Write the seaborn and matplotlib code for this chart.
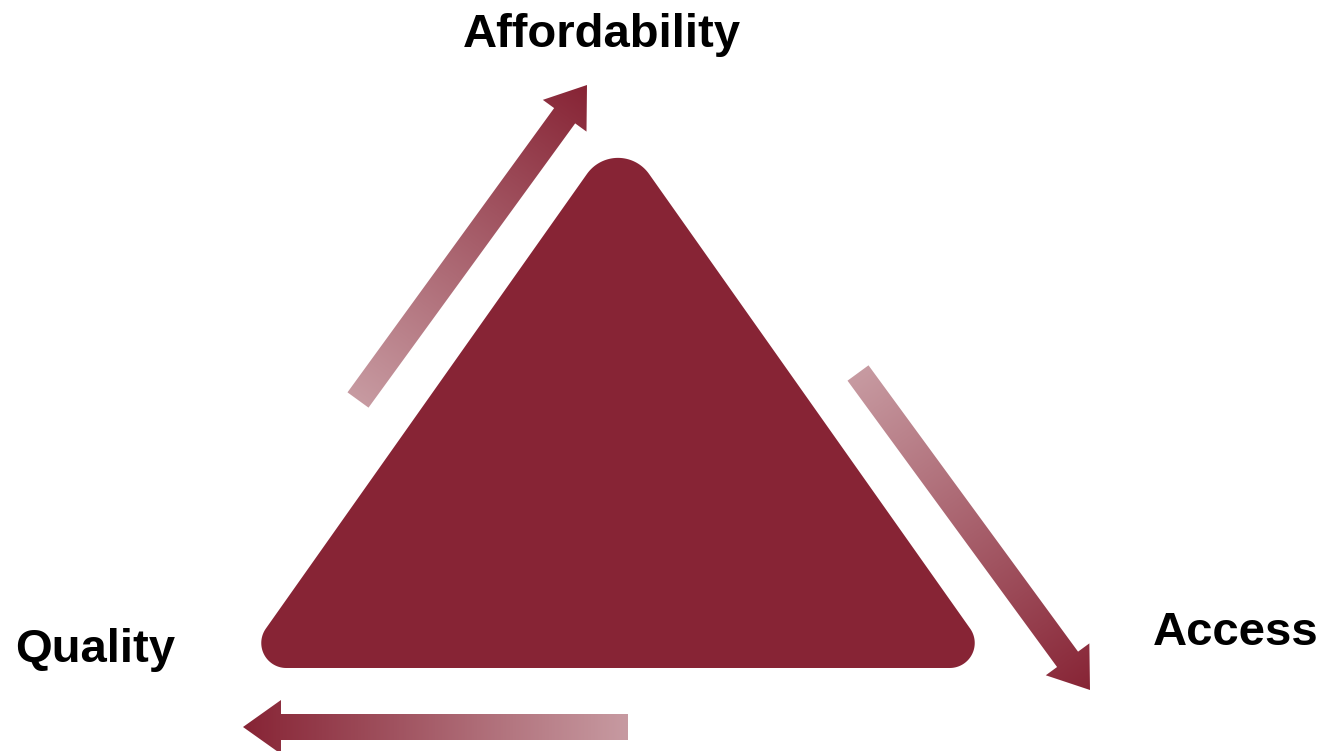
import numpy as np
import matplotlib
matplotlib.use("Agg")
import matplotlib.pyplot as plt
import seaborn as sns
from matplotlib.patches import Polygon
from matplotlib.colors import LinearSegmentedColormap

# ---- content ----
labels = ["Affordability", "Access", "Quality"]
label_x = [602, 1236, 95]
label_y = [47, 645, 662]          # baselines (pixels from top)

# triangle (sharp vertices, pixels) and corner radii
tri_x = [618, 238, 998]
tri_y = [130, 668, 668]
corner_r = [38, 25, 25]

# arrows: tail -> tip
arrow_tail_x = [358, 858, 628]
arrow_tail_y = [400, 373, 727]
arrow_tip_x = [587, 1090, 243]
arrow_tip_y = [85, 690, 727]

DARK = "#872435"
LIGHT = "#c79aa1"

sns.set_theme(style="white")
plt.rcParams["font.family"] = ["Liberation Sans", "DejaVu Sans"]

W, H, DPI = 1321, 751, 100
fig = plt.figure(figsize=(W / DPI, H / DPI), dpi=DPI)
fig.patch.set_facecolor("white")
ax = fig.add_axes([0, 0, 1, 1])
ax.set_xlim(0, W)
ax.set_ylim(H, 0)
ax.axis("off")

# ---- rounded triangle ----
V = np.column_stack([tri_x, tri_y]).astype(float)
pts = []
n = len(V)
for i in range(n):
    A, Vi, C = V[i - 1], V[i], V[(i + 1) % n]
    r = corner_r[i]
    u1 = (A - Vi) / np.linalg.norm(A - Vi)
    u2 = (C - Vi) / np.linalg.norm(C - Vi)
    ang = np.arccos(np.clip(u1 @ u2, -1, 1))
    half = ang / 2
    bis = (u1 + u2) / np.linalg.norm(u1 + u2)
    center = Vi + bis * r / np.sin(half)
    T1 = Vi + u1 * r / np.tan(half)
    T2 = Vi + u2 * r / np.tan(half)
    a1 = np.arctan2(*(T1 - center)[::-1])
    a2 = np.arctan2(*(T2 - center)[::-1])
    da = (a2 - a1 + np.pi) % (2 * np.pi) - np.pi
    th = a1 + np.linspace(0, 1, 40) * da
    pts.append(np.column_stack([center[0] + r * np.cos(th), center[1] + r * np.sin(th)]))
pts = np.vstack(pts)
ax.add_patch(Polygon(pts, closed=True, fc=DARK, ec="none", zorder=2))

# ---- gradient arrows ----
cmap = LinearSegmentedColormap.from_list("grad", [LIGHT, DARK])


def arrow_poly(T, P, w, hw, hl):
    u = (P - T) / np.linalg.norm(P - T)
    nn = np.array([-u[1], u[0]])
    B = P - u * hl
    return np.array([T + nn * w, B + nn * w, B + nn * hw, P, B - nn * hw, B - nn * w, T - nn * w])


for tx, ty, px, py in zip(arrow_tail_x, arrow_tail_y, arrow_tip_x, arrow_tip_y):
    T = np.array([tx, ty], float)
    P = np.array([px, py], float)
    poly = arrow_poly(T, P, 13, 27, 38)
    x0, y0 = poly.min(axis=0) - 2
    x1, y1 = poly.max(axis=0) + 2
    xs = np.linspace(x0, x1, 300)
    ys = np.linspace(y0, y1, 300)
    XX, YY = np.meshgrid(xs, ys)
    d = P - T
    t = ((XX - T[0]) * d[0] + (YY - T[1]) * d[1]) / (d @ d)
    t = np.clip(t, 0, 1)
    patch = Polygon(poly, closed=True, fc="none", ec="none")
    ax.add_patch(patch)
    im = ax.imshow(t, cmap=cmap, vmin=0, vmax=1, extent=(x0, x1, y1, y0),
                   origin="upper", interpolation="bilinear", zorder=3)
    im.set_clip_path(patch)

ax.set_xlim(0, W)
ax.set_ylim(H, 0)

# ---- labels ----
for lab, x, y in zip(labels, label_x, label_y):
    ax.text(x, y, lab, ha="center", va="baseline", fontsize=34,
            fontweight="bold", color="black", zorder=4)

fig.savefig("out.png", dpi=DPI, facecolor="white")
